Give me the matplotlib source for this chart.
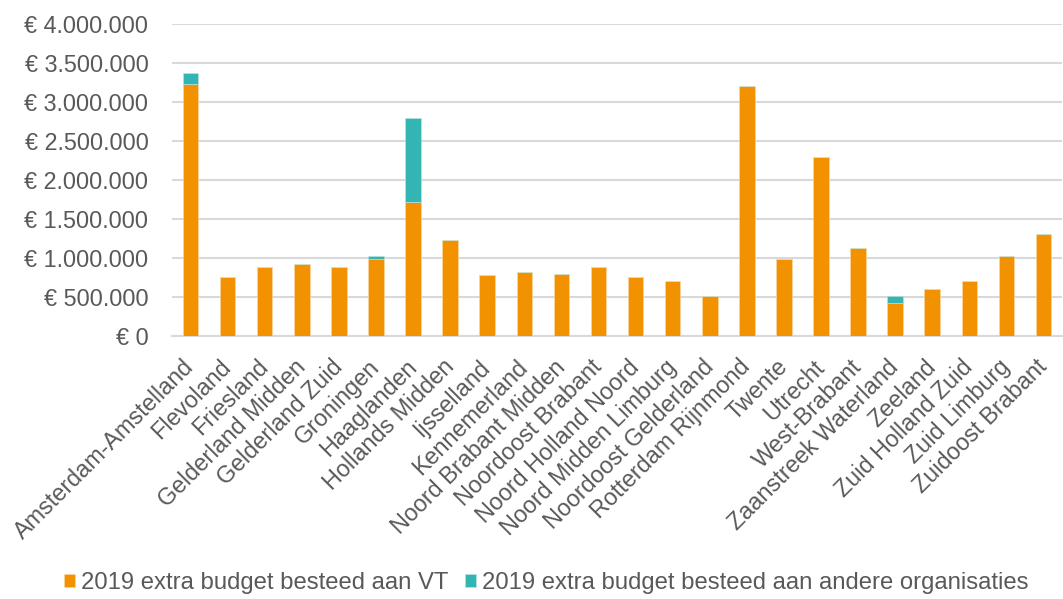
import numpy as np
import matplotlib.pyplot as plt
import matplotlib.transforms as mtransforms

plt.rcParams['font.family'] = ['Liberation Sans', 'DejaVu Sans']

regios = ['Amsterdam-Amstelland', 'Flevoland', 'Friesland', 'Gelderland Midden',
          'Gelderland Zuid', 'Groningen', 'Haaglanden', 'Hollands Midden',
          'Ijsselland', 'Kennemerland', 'Noord Brabant Midden', 'Noordoost Brabant',
          'Noord Holland Noord', 'Noord Midden Limburg', 'Noordoost Gelderland',
          'Rotterdam Rijnmond', 'Twente', 'Utrecht', 'West-Brabant',
          'Zaanstreek Waterland', 'Zeeland', 'Zuid Holland Zuid', 'Zuid Limburg',
          'Zuidoost Brabant']

# 2019 extra budget besteed aan VT
vt = [3231000, 758000, 882000, 925000, 882000, 985000, 1717000, 1232000,
      784000, 827000, 801000, 886000, 763000, 703000, 518000, 3210000,
      985000, 2293000, 1125000, 418000, 597000, 700000, 1027000, 1313000]
# 2019 extra budget besteed aan andere organisaties
andere = [145000, 0, 0, 0, 0, 42000, 1083000, 0,
          0, 0, 0, 0, 0, 0, 0, 0,
          0, 0, 0, 97000, 0, 0, 0, 0]

yticks = [0, 500000, 1000000, 1500000, 2000000, 2500000, 3000000, 3500000, 4000000]
ylabels = ['€ 0', '€ 500.000', '€ 1.000.000', '€ 1.500.000', '€ 2.000.000',
           '€ 2.500.000', '€ 3.000.000', '€ 3.500.000', '€ 4.000.000']

oranje = '#F39200'
teal = '#33B5B3'
grijs = '#595959'

fig = plt.figure(figsize=(10.63, 5.99), dpi=100)
ax = fig.add_axes([0.1618, 0.4391, 0.8373, 0.5203])

x = np.arange(len(regios))
w = 0.42
ax.bar(x, vt, w, color=oranje, edgecolor='#FBD9A6', linewidth=0.4,
       label='2019 extra budget besteed aan VT', zorder=3)
ax.bar(x, andere, w, bottom=vt, color=teal, edgecolor='#BDE6E5', linewidth=0.4,
       label='2019 extra budget besteed aan andere organisaties', zorder=3)

ax.set_xlim(-0.5, len(regios) - 0.5)
ax.set_ylim(0, 4000000)
ax.set_yticks(yticks)
ax.set_yticklabels(ylabels, fontsize=16.8, color=grijs)
ax.set_xticks(x)
ax.set_xticklabels(regios, rotation=45, ha='right', va='top', rotation_mode='anchor',
                   fontsize=16.8, color=grijs)
ax.tick_params(length=0)
ax.tick_params(axis='y', pad=17)
ax.tick_params(axis='x', pad=14)
# labels iets naar links schuiven zoals in Excel
offset = mtransforms.ScaledTranslation(-8 / 100, 0, fig.dpi_scale_trans)
for lbl in ax.get_xticklabels():
    lbl.set_transform(lbl.get_transform() + offset)

ax.grid(axis='y', color='#D9D9D9', linewidth=1.5, zorder=0)
for s in ['top', 'right', 'left']:
    ax.spines[s].set_visible(False)
ax.spines['bottom'].set_color('#D9D9D9')
ax.spines['bottom'].set_linewidth(1.5)

fig.legend(loc='center', bbox_to_anchor=(0.514, 0.0267), ncol=2, frameon=False,
           fontsize=17.2, labelcolor=grijs, handlelength=0.47, handleheight=0.47,
           handletextpad=0.25, columnspacing=0.68, borderpad=0, borderaxespad=0)

fig.savefig('out.png', dpi=100)
